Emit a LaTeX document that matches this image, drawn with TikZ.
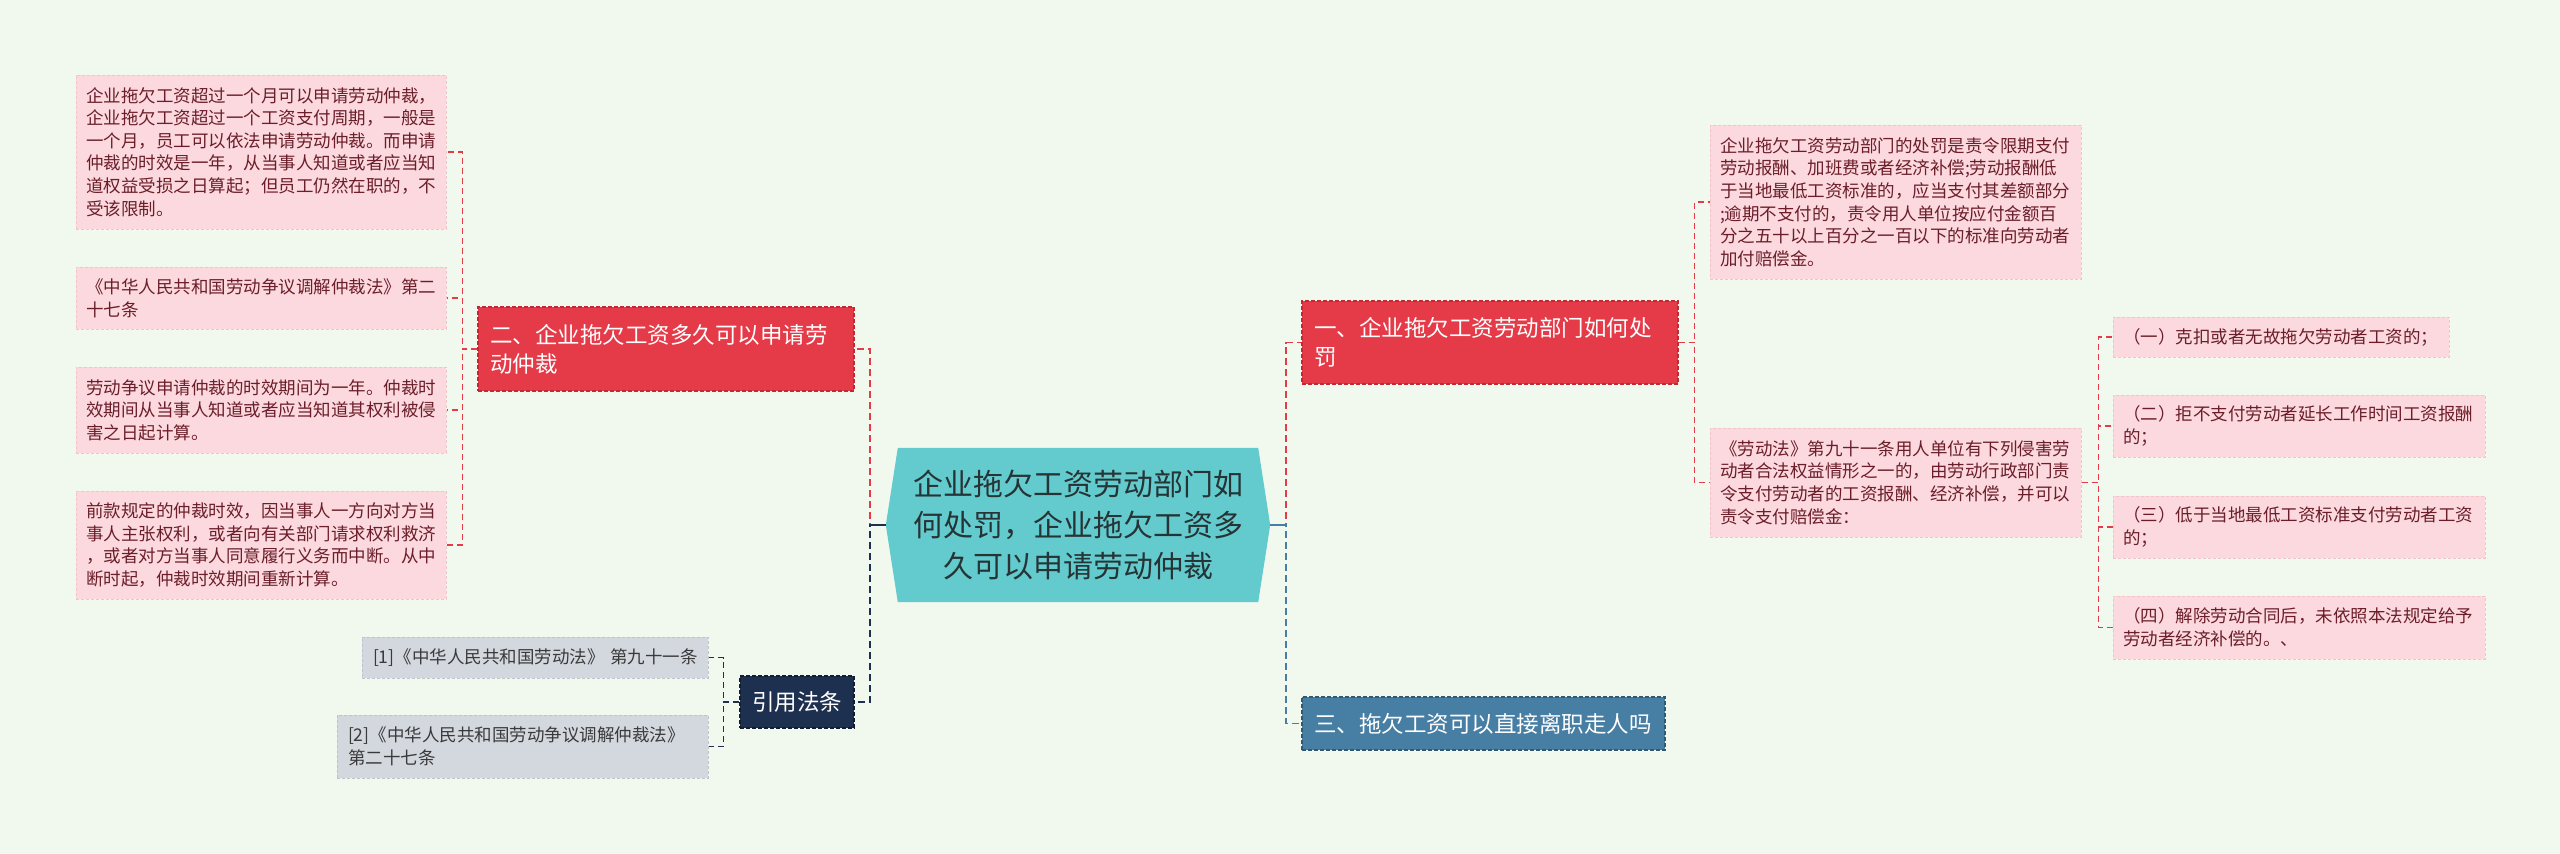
\documentclass[tikz,border=0pt]{standalone}
\usepackage{fontspec}
\setmainfont{Noto Sans CJK SC}
\usetikzlibrary{calc}
\pgfdeclarelayer{bg}
\pgfsetlayers{bg,main}
\definecolor{bgc}{HTML}{F1F9EF}
\definecolor{teal}{HTML}{63CBCD}
\definecolor{ctext}{HTML}{263436}
\definecolor{redc}{HTML}{E53A48}
\definecolor{redb}{HTML}{C42835}
\definecolor{navy}{HTML}{1E3050}
\definecolor{steel}{HTML}{477EA3}
\definecolor{pinkf}{HTML}{FCD9DE}
\definecolor{pinkb}{HTML}{F3C3CA}
\definecolor{pinkt}{HTML}{6B1E2A}
\definecolor{grayf}{HTML}{D3D7DE}
\definecolor{grayb}{HTML}{BFC4CC}
\definecolor{grayt}{HTML}{3A3A3A}
\begin{document}
\begin{tikzpicture}[x=1pt,y=-1pt,
  leaf/.style={draw=pinkb, fill=pinkf, text=pinkt, line width=1pt, dash pattern=on 3pt off 2pt,
    font=\fontsize{17.5pt}{22.6pt}\selectfont, align=left, inner xsep=10pt, inner ysep=0pt},
  refbox/.style={draw=grayb, fill=grayf, text=grayt, line width=1pt, dash pattern=on 3pt off 2pt,
    font=\fontsize{17.5pt}{22.6pt}\selectfont, align=left, inner xsep=11pt, inner ysep=0pt},
  topic/.style={line width=1.2pt, dash pattern=on 4pt off 2pt, text=white,
    font=\fontsize{22.5pt}{29pt}\selectfont, align=left, inner xsep=12pt, inner ysep=0pt},
  conR/.style={draw=redc, line width=1.6pt, dash pattern=on 7pt off 4pt},
  conN/.style={draw=navy, line width=1.6pt, dash pattern=on 7pt off 4pt},
  conB/.style={draw=steel, line width=1.6pt, dash pattern=on 7pt off 4pt},
  lconR/.style={draw=redc, line width=1.2pt, dash pattern=on 6pt off 4pt},
  lconN/.style={draw=navy, line width=1.2pt, dash pattern=on 6pt off 4pt},
]
\useasboundingbox (0,0) rectangle (2560,854);

% central node
\node[align=center, text=ctext, font=\fontsize{30pt}{41pt}\selectfont,
  minimum width=360pt, minimum height=154pt, inner sep=0pt] (c) at (1078,525)
  {企业拖欠工资劳动部门如\\何处罚，企业拖欠工资多\\久可以申请劳动仲裁};
\begin{pgfonlayer}{bg}
\fill[bgc] (0,0) rectangle (2560,854);
\fill[teal] (c.north west) -- (c.north east) -- ($(c.east)+(12,0)$) -- (c.south east)
  -- (c.south west) -- ($(c.west)+(-12,0)$) -- cycle;
\end{pgfonlayer}
\coordinate (cl) at ($(c.west)+(-12,0)$);
\coordinate (cr) at ($(c.east)+(12,0)$);

% main topics
\node[topic, fill=redc, draw=redb, text width=352pt, minimum height=84pt] (n2) at (666,349)
  {二、企业拖欠工资多久可以申请劳\\动仲裁};
\node[topic, fill=redc, draw=redb, text width=352pt, minimum height=83pt] (n1) at (1490,342.5)
  {一、企业拖欠工资劳动部门如何处\\罚};
\node[topic, fill=steel, draw=steel!70!black, text width=339pt, minimum height=53pt] (n3) at (1483.5,723.5)
  {三、拖欠工资可以直接离职走人吗};
\node[topic, fill=navy, draw=navy!60!black, text width=90pt, minimum height=52pt] (ref) at (797,702)
  {引用法条};

% left leaves
\node[leaf, text width=350pt, minimum height=154pt] (l1) at (261,152)
  {企业拖欠工资超过一个月可以申请劳动仲裁，\\企业拖欠工资超过一个工资支付周期，一般是\\一个月，员工可以依法申请劳动仲裁。而申请\\仲裁的时效是一年，从当事人知道或者应当知\\道权益受损之日算起；但员工仍然在职的，不\\受该限制。};
\node[leaf, text width=350pt, minimum height=62pt] (l2) at (261,298)
  {《中华人民共和国劳动争议调解仲裁法》第二\\十七条};
\node[leaf, text width=350pt, minimum height=86pt] (l3) at (261,410)
  {劳动争议申请仲裁的时效期间为一年。仲裁时\\效期间从当事人知道或者应当知道其权利被侵\\害之日起计算。};
\node[leaf, text width=350pt, minimum height=108pt] (l4) at (261,545)
  {前款规定的仲裁时效，因当事人一方向对方当\\事人主张权利，或者向有关部门请求权利救济\\，或者对方当事人同意履行义务而中断。从中\\断时起，仲裁时效期间重新计算。};

% references
\node[refbox, text width=324pt, minimum height=41pt] (r1) at (535,657.5)
  {\mbox{[1]《中华人民共和国劳动法》~第九十一条}};
\node[refbox, text width=349pt, minimum height=63pt] (r2) at (522.5,746.5)
  {[2]《中华人民共和国劳动争议调解仲裁法》\\第二十七条};

% right leaves
\node[leaf, text width=351pt, minimum height=154pt] (ra) at (1895.5,202)
  {企业拖欠工资劳动部门的处罚是责令限期支付\\劳动报酬、加班费或者经济补偿;劳动报酬低\\于当地最低工资标准的，应当支付其差额部分\\;逾期不支付的，责令用人单位按应付金额百\\分之五十以上百分之一百以下的标准向劳动者\\加付赔偿金。};
\node[leaf, text width=351pt, minimum height=109pt] (rb) at (1895.5,482.5)
  {《劳动法》第九十一条用人单位有下列侵害劳\\动者合法权益情形之一的，由劳动行政部门责\\令支付劳动者的工资报酬、经济补偿，并可以\\责令支付赔偿金：};

% items
\node[leaf, text width=316pt, minimum height=40pt] (i1) at (2281,337)
  {（一）克扣或者无故拖欠劳动者工资的；};
\node[leaf, text width=352pt, minimum height=62pt] (i2) at (2299,426)
  {（二）拒不支付劳动者延长工作时间工资报酬\\的；};
\node[leaf, text width=352pt, minimum height=62pt] (i3) at (2299,527)
  {（三）低于当地最低工资标准支付劳动者工资\\的；};
\node[leaf, text width=352pt, minimum height=63pt] (i4) at (2299,627.5)
  {（四）解除劳动合同后，未依照本法规定给予\\劳动者经济补偿的。、};

% main connectors
\draw[conR] (cl) -- ++(-16,0) |- (n2.east);
\draw[conN] (cl) -- ++(-16,0) |- (ref.east);
\draw[navy, line width=1.6pt] (cl) -- ++(-16,0);
\draw[conR] (cr) -- ++(16,0) |- (n1.west);
\draw[conB] (cr) -- ++(16,0) |- (n3.west);
\draw[steel, line width=1.6pt] (cr) -- ++(16,0);

% sub connectors
\foreach \t in {l1,l2,l3,l4}
  \draw[lconR] (n2.west) -- ++(-15,0) |- (\t.east);
\foreach \t in {r1,r2}
  \draw[lconN] (ref.west) -- ++(-16,0) |- (\t.east);
\foreach \t in {ra,rb}
  \draw[lconR] (n1.east) -- ++(16,0) |- (\t.west);
\foreach \t in {i1,i2,i3,i4}
  \draw[lconR] (rb.east) -- ++(17,0) |- (\t.west);
\end{tikzpicture}
\end{document}
